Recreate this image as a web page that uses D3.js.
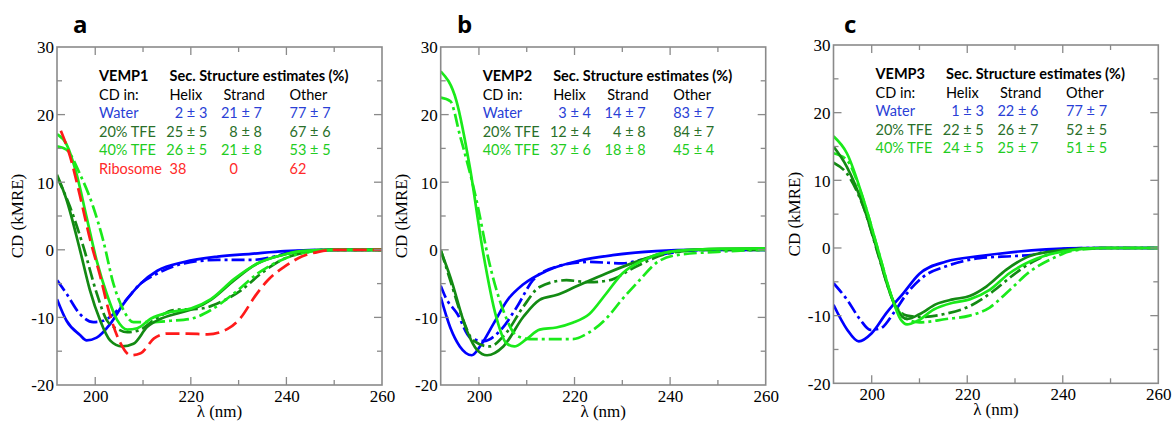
<!DOCTYPE html>
<html>
<head>
<meta charset="utf-8">
<script src="https://cdnjs.cloudflare.com/ajax/libs/d3/7.8.5/d3.min.js"></script>
<style>
  body { margin: 0; background: #fff; }
  svg { display: block; }
</style>
</head>
<body>
<div id="chart"></div>
<script>
// ---------- data ----------
// x = wavelength (nm), y = CD (kMRE)
const xTicks = [200, 220, 240, 260];
const yTicks = [-20, -10, 0, 10, 20, 30];

// panel a : VEMP1
const a_water = [[192,-7.3],[194,-10.5],[196.8,-12.6],[198.2,-13.4],[200.3,-13],[203.1,-11],[205.9,-8],[209.5,-5],[213,-3.1],[218.6,-1.8],[225.6,-1.0],[232.6,-0.6],[239.6,-0.2],[250,0],[260,0]];
const a_water2 = [[192,-4.5],[194,-6.5],[196.8,-9.5],[199.6,-10.7],[201.7,-10.5],[203.8,-9.5],[206.6,-7.3],[209.5,-5],[213,-3.5],[218.6,-2],[225.6,-1.5],[232.6,-1.5],[237.5,-1],[241,-0.3],[250,0],[260,0]];
const a_tfe20 = [[192,11.1],[194,7.4],[196.8,0],[198.9,-6],[201,-10.4],[203.1,-13.4],[205.6,-14.3],[208,-13.9],[210.9,-11.4],[213.7,-10.2],[217.2,-9.4],[220.7,-8.7],[224.2,-7.4],[229.1,-4.5],[234,-2],[239,-0.8],[243.2,-0.2],[250,0],[260,0]];
const a_tfe20b = [[192,10.8],[194.7,6.4],[197.5,0.5],[200.3,-6.4],[202.4,-10.4],[204.9,-11.8],[206.7,-12.2],[209.5,-11.8],[212.3,-10.4],[216.5,-8.9],[222.1,-8.7],[226.3,-7.7],[230.5,-6],[234.7,-3.5],[239,-1.5],[243.2,-0.5],[250,0],[260,0]];
const a_tfe40 = [[192,17.1],[194,15.6],[196.1,11.2],[198.2,4.8],[200.3,-1.6],[202.4,-6.5],[204.6,-10.4],[206.7,-11.8],[208.8,-11.6],[211.6,-10.2],[215.8,-9.2],[220,-8.7],[224.2,-7.3],[229.1,-4.3],[234,-2],[239,-0.8],[243.2,-0.2],[250,0],[260,0]];
const a_tfe40b = [[192,15.3],[194,14.8],[196.8,11.2],[199.6,6.3],[201.7,1.3],[203.8,-5],[205.9,-8.9],[208,-10.7],[211.6,-10.7],[215.8,-10.5],[220,-10.2],[224.2,-8.9],[229.1,-6.4],[234,-3.5],[239,-1.5],[243.2,-0.5],[250,0],[260,0]];
const a_ribo = [[192.8,17.6],[194.7,13.9],[196.8,8],[198.9,1.6],[201,-3.8],[203.1,-9.7],[205.2,-13.7],[207.4,-15.6],[209.5,-15.3],[212.3,-13.1],[215.1,-12.4],[219.3,-12.4],[223.5,-12.5],[227.7,-11.7],[230.5,-10],[233.3,-7],[236.1,-4.5],[239.6,-2.5],[243.2,-1],[246.7,-0.3],[250.2,0],[260,0]];

// panel b : VEMP2
const b_water = [[192,-7],[194,-11.5],[196,-14.3],[198.5,-15.6],[200.5,-14],[203,-11],[205.9,-7.5],[209.3,-5.1],[214.2,-3.1],[221.1,-1.6],[228,-0.8],[237,-0.2],[245,0],[260,0]];
const b_water2 = [[192,-5.3],[193,-7],[195.5,-9.5],[198.2,-13],[201,-13.5],[204.4,-12],[207.9,-8.5],[211.3,-4.5],[216.2,-2.5],[223.1,-1.8],[230,-2],[234,-1.5],[239.6,-0.5],[248,0],[260,0]];
const b_tfe20 = [[192,-0.1],[194,-4],[197.5,-12],[199.6,-14.8],[201.7,-15.6],[205.1,-14.3],[209.3,-9.9],[212.7,-7.4],[216.2,-6.7],[220.4,-5.4],[226.6,-3.5],[233.6,-1.6],[239.8,-0.3],[248,0.1],[260,0.2]];
const b_tfe20b = [[192,0],[194,-4.5],[196.5,-10],[198.8,-13.4],[202.2,-14.3],[205.7,-12.3],[209.3,-8.4],[212.7,-5.5],[218.3,-4.5],[223.1,-4.8],[227.3,-4.5],[232.8,-2.5],[239.8,-0.5],[248,0],[260,0]];
const b_tfe40 = [[192,26.4],[195.3,22],[198.1,12.2],[200.8,-0.1],[203.6,-9.9],[205.7,-13.8],[207.4,-14.3],[209.8,-13.3],[212.7,-11.8],[216.2,-11.5],[219.6,-10.8],[223.1,-9.5],[226.6,-6.5],[230,-3.5],[234.2,-1.6],[239.8,-0.3],[248,0.1],[260,0.2]];
const b_tfe40b = [[192,22.5],[194,22],[196,17],[199.5,7.3],[202.2,-2],[205,-8.8],[207.9,-12.7],[210.6,-13.2],[214.8,-13.2],[219.6,-13.2],[223.1,-12.2],[226.6,-10.2],[230,-7.3],[233.6,-4.5],[237,-2],[241.2,-0.8],[250,-0.3],[260,0]];

// panel c : VEMP3
const c_water = [[192,-8.4],[194.8,-12],[197.3,-13.8],[200,-12.6],[203.1,-9.6],[206.6,-6.7],[210,-3.8],[215.6,-2],[222.6,-1.2],[229.6,-0.6],[236.5,-0.2],[245,0],[260,0]];
const c_water2 = [[192,-5.2],[194.8,-7.6],[197.6,-10.6],[199.7,-12.1],[201.8,-11.9],[204.6,-9.6],[207.4,-6.7],[210.9,-4.2],[215.6,-2.7],[222.6,-1.5],[229.6,-1.2],[233.8,-1],[236.5,-0.5],[245,0],[260,0]];
const c_tfe20 = [[192,15],[194.8,12],[198.3,6.1],[201.1,-0.2],[203.1,-5.1],[205.2,-9],[207.4,-10.5],[210,-9.8],[213.5,-8.3],[217,-7.6],[220.5,-7.1],[224,-5.7],[228.2,-3.2],[233.1,-1.2],[240.1,-0.3],[248,0],[260,0]];
const c_tfe20b = [[192,12.6],[194.8,11],[198.3,6],[201.8,-2],[204.6,-8],[207.4,-10],[210,-10.2],[215.6,-9.7],[220.5,-8.6],[225.4,-6.4],[229.6,-4],[233.8,-2],[239.4,-0.5],[248,0],[260,0]];
const c_tfe40 = [[192,16.5],[194.8,14],[198.3,7.1],[201.1,0.3],[203.9,-6.6],[206,-10.5],[207.4,-11.3],[209.5,-10.8],[213,-9.1],[217,-8.1],[220.5,-7.6],[224.7,-6.2],[228.9,-3.7],[233.1,-2],[240.1,-0.5],[248,0],[260,0]];
const c_tfe40b = [[192,14],[194.8,13],[198.3,7],[201.8,-1.5],[204.6,-8],[207.4,-10.5],[210,-11],[215.6,-10.5],[220.5,-10],[224.7,-8.8],[228.9,-6.2],[233.1,-3.5],[238,-1.5],[242.2,-0.4],[250,0],[260,0]];

// legend tables
const conditions = ["Water", "20% TFE", "40% TFE", "Ribosome"];
const a_helix = ["2 \u00b1 3", "25 \u00b1 5", "26 \u00b1 5"];
const a_strand = ["21 \u00b1 7", "8 \u00b1 8", "21 \u00b1 8"];
const a_other = ["77 \u00b1 7", "67 \u00b1 6", "53 \u00b1 5"];
const a_ribosome = ["38", "0", "62"];
const b_helix = ["3 \u00b1 4", "12 \u00b1 4", "37 \u00b1 6"];
const b_strand = ["14 \u00b1 7", "4 \u00b1 8", "18 \u00b1 8"];
const b_other = ["83 \u00b1 7", "84 \u00b1 7", "45 \u00b1 4"];
const c_helix = ["1 \u00b1 3", "22 \u00b1 5", "24 \u00b1 5"];
const c_strand = ["22 \u00b1 6", "26 \u00b1 7", "25 \u00b1 7"];
const c_other = ["77 \u00b1 7", "52 \u00b1 5", "51 \u00b1 5"];

// ---------- styles ----------
const LINE = { water: "#0000ff", tfe20: "#138a13", tfe40: "#1aea1a", ribo: "#ff1a1a" };
const TXT = { water: "#2a3fd6", tfe20: "#2a6f2a", tfe40: "#22cc22", ribo: "#ff2a2a" };
const DASHDOT = "13,4,3,4";
const DASH = "14,6";

const W = 1173, H = 421;
const svg = d3.select("#chart").append("svg").attr("width", W).attr("height", H);

const panels = [
  { letter: "a", letterX: 73, left: 57, right: 382, top: 47, bottom: 385, name: "VEMP1",
    series: [
      [a_water, LINE.water, null], [a_water2, LINE.water, DASHDOT],
      [a_tfe20b, LINE.tfe20, DASHDOT], [a_tfe40b, LINE.tfe40, DASHDOT],
      [a_tfe20, LINE.tfe20, null], [a_tfe40, LINE.tfe40, null],
      [a_ribo, LINE.ribo, DASH]],
    helix: a_helix, strand: a_strand, other: a_other, ribosome: a_ribosome },
  { letter: "b", letterX: 457, left: 440.7, right: 765.7, top: 47, bottom: 385, name: "VEMP2",
    series: [
      [b_water2, LINE.water, DASHDOT], [b_water, LINE.water, null],
      [b_tfe20b, LINE.tfe20, DASHDOT], [b_tfe20, LINE.tfe20, null],
      [b_tfe40b, LINE.tfe40, DASHDOT], [b_tfe40, LINE.tfe40, null]],
    helix: b_helix, strand: b_strand, other: b_other },
  { letter: "c", letterX: 844, left: 833.5, right: 1158.3, top: 45, bottom: 383.3, name: "VEMP3",
    series: [
      [c_water2, LINE.water, DASHDOT], [c_water, LINE.water, null],
      [c_tfe20b, LINE.tfe20, DASHDOT], [c_tfe40b, LINE.tfe40, DASHDOT],
      [c_tfe20, LINE.tfe20, null], [c_tfe40, LINE.tfe40, null]],
    helix: c_helix, strand: c_strand, other: c_other }
];

const serif = "'Liberation Serif', serif";
const sans = "Lato, 'Open Sans', sans-serif";

panels.forEach((p, i) => {
  const x = d3.scaleLinear().domain([192, 260]).range([p.left, p.right]);
  const y = d3.scaleLinear().domain([-20, 30]).range([p.bottom, p.top]);
  const g = svg.append("g");

  // panel letter
  g.append("text").attr("x", p.letterX).attr("y", 33)
    .style("font-family", "'Open Sans', sans-serif").attr("font-weight", "bold")
    .attr("font-size", 24).text(p.letter);

  // curves
  const clipId = "clip" + i;
  svg.append("clipPath").attr("id", clipId).append("rect")
    .attr("x", p.left).attr("y", p.top).attr("width", p.right - p.left).attr("height", p.bottom - p.top);
  const line = d3.line().x(d => x(d[0])).y(d => y(d[1])).curve(d3.curveMonotoneX);
  const cg = g.append("g").attr("clip-path", "url(#" + clipId + ")");
  p.series.forEach(s => {
    cg.append("path").attr("d", line(s[0])).attr("fill", "none")
      .attr("stroke", s[1]).attr("stroke-width", 2.7)
      .attr("stroke-dasharray", s[2]).attr("stroke-linejoin", "round");
  });

  // axes: ticks inward on all four sides
  const frame = "#8a8a8a";
  const xMinor = d3.range(200, 260, 10);
  const yMinor = d3.range(-15, 30, 5);
  const axB = d3.axisBottom(x).tickValues(xTicks).tickSize(0).tickPadding(5).tickFormat(d => String(d));
  const axL = d3.axisLeft(y).tickValues(yTicks).tickSize(0).tickPadding(3).tickFormat(d => String(d));
  const gb = g.append("g").attr("transform", "translate(0," + p.bottom + ")").call(axB);
  const gl = g.append("g").attr("transform", "translate(" + p.left + ",0)").call(axL);
  [gb, gl].forEach(a => {
    a.select(".domain").remove();
    a.attr("font-family", null).attr("font-size", null);
    a.selectAll("text").style("font-family", serif).style("font-size", "17px").attr("fill", "#000");
  });
  gl.selectAll("text").attr("dy", "0.35em");

  const tk = g.append("g").attr("stroke", frame).attr("stroke-width", 1.3);
  xMinor.forEach(v => {
    const len = v % 20 === 0 ? 8 : 5;
    tk.append("line").attr("x1", x(v)).attr("x2", x(v)).attr("y1", p.bottom).attr("y2", p.bottom - len);
    tk.append("line").attr("x1", x(v)).attr("x2", x(v)).attr("y1", p.top).attr("y2", p.top + len);
  });
  yMinor.forEach(v => {
    const len = v % 10 === 0 ? 8 : 5;
    tk.append("line").attr("y1", y(v)).attr("y2", y(v)).attr("x1", p.left).attr("x2", p.left + len);
    tk.append("line").attr("y1", y(v)).attr("y2", y(v)).attr("x1", p.right).attr("x2", p.right - len);
  });
  g.append("rect").attr("x", p.left).attr("y", p.top)
    .attr("width", p.right - p.left).attr("height", p.bottom - p.top)
    .attr("fill", "none").attr("stroke", frame).attr("stroke-width", 1.6);

  // axis titles
  g.append("text").attr("x", (p.left + p.right) / 2).attr("y", p.bottom + 32)
    .attr("text-anchor", "middle").style("font-family", serif).style("font-size", "17px")
    .text("\u03bb (nm)");
  g.append("text")
    .attr("transform", "translate(" + (p.left - 34) + "," + ((p.top + p.bottom) / 2) + ") rotate(-90)")
    .attr("text-anchor", "middle").style("font-family", serif).style("font-size", "17px")
    .text("CD (kMRE)");

  // structure table
  const t = g.append("g").style("font-family", sans).style("font-size", "14.5px");
  const c0 = p.left + 42, c1 = p.left + 112.5, c1r = p.left + 150.3,
        c2 = p.left + 166.5, c2r = p.left + 205, c3 = p.left + 232.5;
  const r0 = p.top + 34, dr = 18.5;
  t.append("text").attr("x", c0).attr("y", r0).attr("font-weight", "bold").text(p.name);
  t.append("text").attr("x", c1).attr("y", r0).attr("font-weight", "bold").text("Sec. Structure estimates (%)");
  t.append("text").attr("x", c0).attr("y", r0 + dr).text("CD in:");
  t.append("text").attr("x", c1).attr("y", r0 + dr).text("Helix");
  t.append("text").attr("x", c2).attr("y", r0 + dr).text("Strand");
  t.append("text").attr("x", c3).attr("y", r0 + dr).text("Other");
  const rowCol = [TXT.water, TXT.tfe20, TXT.tfe40];
  p.helix.forEach((v, k) => {
    const yy = r0 + dr * (k + 2);
    t.append("text").attr("x", c0).attr("y", yy).attr("fill", rowCol[k]).text(conditions[k]);
    t.append("text").attr("x", c1r).attr("y", yy).attr("fill", rowCol[k]).attr("text-anchor", "end").text(v);
    t.append("text").attr("x", c2r).attr("y", yy).attr("fill", rowCol[k]).attr("text-anchor", "end").text(p.strand[k]);
    t.append("text").attr("x", c3).attr("y", yy).attr("fill", rowCol[k]).text(p.other[k]);
  });
  if (p.ribosome) {
    const yy = r0 + dr * 5;
    t.append("text").attr("x", c0).attr("y", yy).attr("fill", TXT.ribo).text(conditions[3]);
    t.append("text").attr("x", c1).attr("y", yy).attr("fill", TXT.ribo).text(p.ribosome[0]);
    t.append("text").attr("x", p.left + 181).attr("y", yy).attr("fill", TXT.ribo).attr("text-anchor", "end").text(p.ribosome[1]);
    t.append("text").attr("x", c3).attr("y", yy).attr("fill", TXT.ribo).text(p.ribosome[2]);
  }
});
</script>
</body>
</html>
